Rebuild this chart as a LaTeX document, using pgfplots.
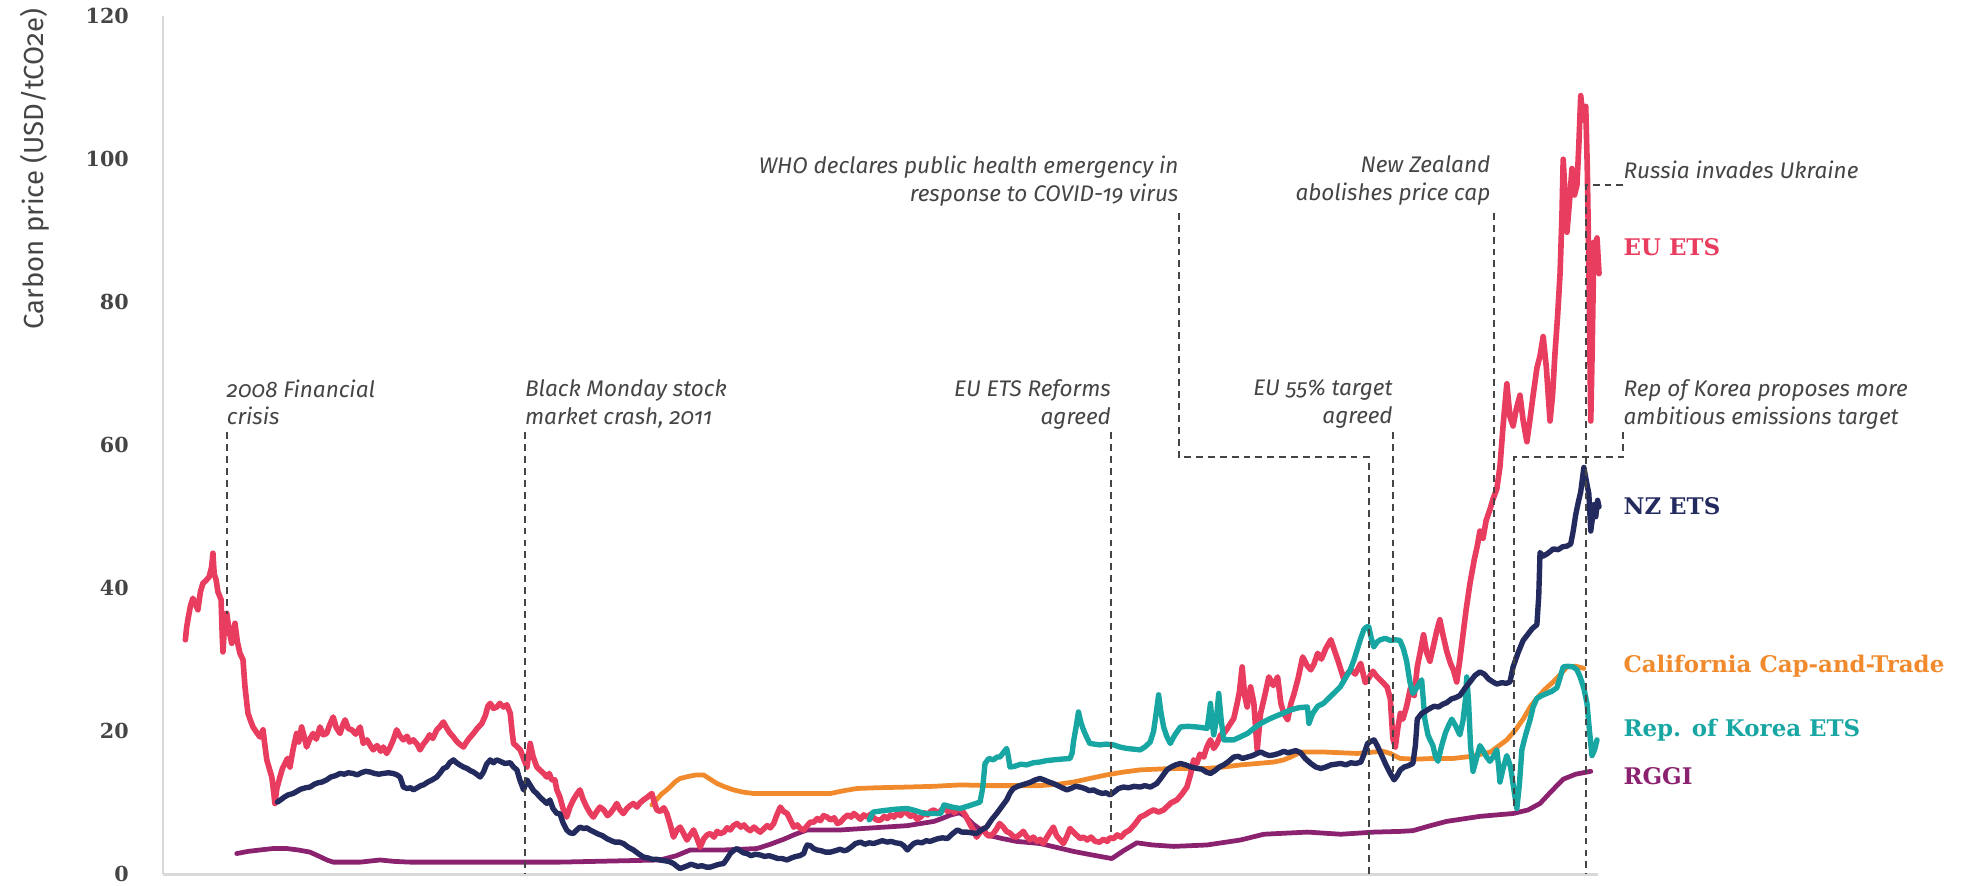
\documentclass[border=0pt]{standalone}
\usepackage{pgfplots}
\pgfplotsset{compat=1.18}
\usepackage{fontspec}
\setmainfont{DejaVu Serif}
\newfontfamily\annfont[Numbers=OldStyle]{Fira Sans}
\definecolor{eu}{HTML}{E83D5F}
\definecolor{nz}{HTML}{232B5E}
\definecolor{ca}{HTML}{F08A2C}
\definecolor{kr}{HTML}{18A6A3}
\definecolor{rg}{HTML}{8B2270}
\definecolor{ann}{HTML}{454545}
\definecolor{axg}{HTML}{D9D9D9}
\tikzset{ev/.style={ann, line width=1.5pt, dash pattern=on 5.5pt off 4pt},
  annt/.style={font=\annfont\itshape\fontsize{18}{22}\selectfont, text=ann, inner sep=0pt},
  sl/.style={font=\bfseries\fontsize{18.3}{20}\selectfont, inner sep=0pt, anchor=west}}
\begin{document}
\begin{tikzpicture}
\path[use as bounding box] (-130pt,-9pt) rectangle (1438pt,698pt);
\begin{axis}[scale only axis, width=1146pt, height=685pt,
  xmin=130, xmax=1276, ymin=0, ymax=120, clip=false,
  axis x line*=bottom, axis y line*=left,
  axis line style={-, axg, line width=2pt},
  xtick=\empty, ytick={0,20,...,120}, major tick length=0pt,
  /pgf/number format/assume math mode=true,
  yticklabel style={anchor=east, inner sep=0pt, xshift=-27pt, font=\bfseries\fontsize{16.5}{16.5}\selectfont, text=ann},
  no markers, every axis plot/.append style={line join=round, line cap=round}]
% RGGI
\addplot[rg, line width=3.8pt] table {
189 2.9
198 3.2
207.6 3.4
218 3.6
229 3.6
238 3.4
247.5 3.1
255 2.5
261 2
266 1.7
287.5 1.7
303.4 2
315 1.8
327.4 1.7
447 1.7
527 2
540 2.6
551 3.4
577.7 3.4
604.4 3.6
615 4.2
625.7 4.9
635 5.6
644.4 6.2
660 6.2
671 6.2
697.6 6.5
724.4 6.8
745.7 7.4
752 7.8
759 8.3
766 8.6
770 8.2
777 7
784 6.1
790.4 5.4
800 5
811.6 4.6
830.3 4.3
845 3.7
857 3.2
872 2.7
887.6 2.2
897 3.3
907.6 4.4
920 4.1
937 3.9
963.7 4.1
990.5 4.8
1009 5.6
1043.8 5.9
1070.5 5.6
1097 5.9
1118 6
1128 6.1
1142 6.8
1155 7.4
1181.5 8.1
1208 8.5
1220 9
1229.5 9.9
1238 11.5
1248 13.3
1258 14
1270 14.4
};
% California
\addplot[ca, line width=3.8pt] table {
520.4 9.7
524 10.4
528 11.2
532.4 11.8
536 12.4
539.5 13
543 13.4
550 13.7
556 13.9
561.7 13.9
567 13.3
572.4 12.7
579 12.2
585.7 11.8
593 11.5
601.6 11.3
620 11.3
640 11.3
663 11.3
674 11.7
684.3 12
700 12.1
724.4 12.2
745 12.3
767 12.5
790 12.4
810 12.4
830 12.4
845 12.6
857 12.9
870 13.4
883.6 13.9
897 14.3
910.3 14.6
923 14.7
937 14.8
963.7 14.8
977 15
990.5 15.3
1004 15.5
1017 15.7
1025 16
1030.5 16.4
1035 16.8
1038.4 17.1
1057 17.1
1070 17
1083.6 16.9
1097 17.1
1104 17.2
1110 16.9
1117.7 16.2
1130 16.1
1145 16.2
1160 16.2
1175 16.5
1190 17.1
1203 18.8
1210 20.2
1216 21.7
1222 23.5
1227 24.6
1233 25.8
1240 26.9
1246 28
1251 29
1258 29.1
1264.5 28.8
};
% EU ETS
\addplot[eu, line width=4.5pt] table {
148 32.8
149 34.5
150 35.6
152 37.5
154 38.6
156 37.8
158 37
160 39.5
162 40.7
164 41
167 41.6
169 43
170 44.9
171 42
172.5 41.2
174 39.5
176.5 38.4
177.5 33
178 31.1
179 34
181 36.5
183 34
185 32.3
187.6 35.1
189.5 32.5
191.6 30.9
194 30
195.6 26.2
197 24
198 22.5
200 21.5
202 20.6
205 19.8
207.6 19.2
210 20.2
211.5 18
213 16
215 14.8
217 13.6
218.5 11.5
219.5 9.9
221 12
223.5 13.6
225.5 14.8
227.5 15.5
229.5 16.2
231.5 15
234 17.5
236.8 19.7
238.5 18.5
240.8 20.6
242.5 19.5
244.8 17.8
247 18.8
250 19.7
252.5 18.9
255.5 20.6
258 19.5
260.8 19.7
263 20.8
266 22
268.5 20.5
271.5 19.7
273.5 20.8
275.5 21.6
278 20.4
280.8 20.2
284 19.6
287.5 20.6
290 18.3
293 18.8
296 17.9
298 17.4
301 18
304 17.2
306 17.8
308.7 16.9
311 17.6
314 18.8
316.7 20.2
319 19.4
322 18.8
325 19.3
327 18.5
330 18.8
333 18.2
335.3 17.4
338 18.2
340.7 18.8
343 19.5
345.5 19
348.7 20.2
351 20.6
354 21.3
356.5 20.5
359 19.8
362 19.2
364.5 18.6
367 18.2
370 17.8
372.5 18.5
375 19.1
378 19.7
381 20.4
384.7 21.1
387.5 22.2
389.5 23.5
391.4 23.9
394 23.2
396.7 23.4
399 23.9
402 23.4
404.7 23.7
407.4 22.5
408.8 20
410 18.3
412.5 17.9
415.4 17.4
418 16.2
420.7 15
423.3 18.3
425.5 16.5
428.6 15
431 14.6
434 14.1
436.6 13.6
438.5 14.1
440.5 13.2
443 13.2
444.6 11.8
447 10.8
449.5 9.2
452.4 8
455 9.4
457.7 10.4
460.5 11.2
463 11.8
465.5 10.5
468.4 9.4
471 8.6
473.7 8
476.5 8.8
479 9.4
482 9
485 8.2
487 8.5
490 9.2
492.4 9.9
495 9
497.7 8.5
500.5 9.2
503 9.6
505.7 9.9
508.5 9.4
511 10
513.7 10.4
517 10.8
520.4 11.3
522.5 10
524.4 9
527 8.8
530 9.3
532.4 8.5
535 7
537.7 5.2
540.5 6.2
543 6.6
545.5 5.8
548.4 4.8
551 5.5
553.7 6.2
556.5 5
559 3.8
562 5
564.5 5.5
567 5.7
570 5.2
572.5 6
575 5.7
578 5.9
580.5 6.5
583 6.2
585.5 6.8
588.4 7.1
591.5 6.6
594 6.9
596.4 6.4
599 6.1
602 6.6
604.5 6.2
607 5.9
610 6.4
612.5 6.8
615 6.5
617.7 7.1
620 8.2
623 9.4
625.5 8.8
628.4 8.5
631 7.6
633.7 6.6
636.5 6.9
639 6.4
641.7 6.2
644.5 6.8
647 7.3
649.7 7.3
652.5 7.8
655 7.5
657.5 8.2
660.4 8
663 7.6
666 7.9
668.5 7.1
671 7.3
674 7.9
677 8.3
679.5 8.0
681.7 8.5
684.5 8.1
687 7.7
689.5 8.3
692.4 8
695 8.4
697.5 7.9
700 7.6
703 7.6
706 8.1
708.5 7.8
711 8.3
713.7 8
716.5 8.6
719 8.2
721.5 8.8
724.4 8.5
727 8.1
729.5 8.4
732 7.7
735 8
738 8.6
740.5 8.3
743 8.8
745.7 9
748.5 8.5
751 8.9
753.5 9.3
756.4 8.8
759 9.2
762 8.6
764.5 9.1
767 9
769 8.7
771 8.2
773.5 7.3
776 6.5
779.7 5.2
782.5 5.9
785 6.4
787.5 5.6
790 5.3
793 5.7
795.5 6.3
798 7.1
801 6.6
803.5 6
806 5.8
809 5.3
811.6 5.2
814.5 5.6
817 6
819.5 5.3
822.3 4.8
825 5.2
828 4.6
830.5 4.9
833 4.3
835.5 5.1
838 5.8
841 6.6
843.5 5.4
846 4.9
849 4.3
851.5 5.2
854.3 6.4
857 5.9
860 5.4
862.5 5
865 5.2
868 4.8
871 5.2
874.5 4.6
878 4.5
881 4.9
884 4.6
886 5.1
889 5
892 5.5
895 5.2
898 5.8
902 6.2
906 7
910.3 8
914 8.3
917.5 8.7
921 9
925 8.7
929 9
932 9.5
935 10
939.6 10.4
943.5 11.2
947.6 12.2
950.5 14
953 16
955.5 15.5
958 16.8
961 16.4
963.5 17.8
966.4 18.8
969 17.6
971.7 18.3
974.5 19.5
977 19.7
979.5 20.3
982.4 21.1
985 21.8
987.7 23.9
989.5 25.5
991.7 29
993.7 25
995.7 23.4
998.4 26.2
1001 24
1003.7 17.4
1006.4 22.5
1009.5 24.8
1013 27.6
1016.5 26.4
1020 27.6
1022.6 23.9
1025 22.5
1028 21.6
1030.5 23.8
1033.2 25.3
1036.5 27.5
1040 30.4
1043.5 29.2
1046.5 28.6
1049 29.4
1052 30.9
1055 30.1
1058.5 31.6
1062.5 32.8
1065 31.5
1068 30
1070.5 28.6
1073 27.2
1075.5 28
1078.5 28.6
1082 28
1086.3 29.5
1090 26.8
1093 27.5
1096 28.4
1099.5 27.6
1103 27
1107.4 26.2
1110 24.5
1112 19
1114 17.8
1116 20.5
1118 22.5
1120 21.7
1123 23.5
1126 26
1129 25
1131.5 29
1134 31.2
1136.5 33.5
1139 31
1141.6 29.8
1144.5 32
1147 34
1149.5 35.6
1152 33.5
1155 31.2
1158 29.5
1160.5 28.5
1163 26.9
1165.5 30
1168 33.5
1170.5 37
1173.6 40.7
1177 44
1179.5 46
1181.5 48
1184 47
1186.5 49.5
1189.5 51
1192 52.5
1195 53.9
1197.5 57
1200 62.7
1203 68.6
1205.5 64
1208 62.7
1210.5 65
1213.5 67
1216 63.5
1219 60.5
1221 63
1224 67
1227 70.8
1229.5 72.5
1232 75.2
1234.5 71
1237.5 63.4
1239.5 67
1241.5 73
1243.5 78
1245.5 84
1247 92
1248 100
1249.5 95
1251 89.8
1253 94
1255 98.7
1257 95
1259 96.4
1260.5 102
1262 108.9
1264 105.5
1266 107.4
1267.2 99
1268.5 84.7
1270 63.4
1271.2 74
1272.5 88.4
1274 86
1275 89
1276.6 84
};
% Korea
\addplot[kr, line width=4.3pt] table {
694 7.6
696 8.3
697 8.7
705 8.9
715 9.1
724.4 9.2
731 8.9
737.7 8.5
745 8.5
751 8.5
753.7 9.7
760 9.4
766.4 9.2
774 9.6
782.4 10.1
784.5 12
786.4 15.5
789.5 16.2
793 16
796 16.4
798.3 16.4
801 17
803.7 17.6
805 16.5
806.3 15
810 15.1
815 15.4
819.7 15.3
825 15.6
830.3 15.7
835.5 15.9
841 16
847 16.1
854.3 16.2
856 17
857 18.5
859 20.5
861 22.7
863 21.2
865 20.2
867.5 19.2
870 18.3
874 18.2
878 18.1
883 18.2
889 18.1
894 17.8
899.7 17.6
905 17.5
910.3 17.4
914 17.8
918.3 18.5
921 20
923 22.5
925 25.1
927 22.5
929 20.6
931.5 19.3
934.3 18.3
938 19.5
942.4 20.6
948 20.7
955.7 20.6
960 20.5
963.7 20.4
965 22
966.4 23.9
967.8 21
969 19.5
971 21.5
973 25.3
975 21.5
977 18.8
981 18.8
985 18.8
990 19.2
996 19.7
1001 20.4
1006.6 21.1
1012 21.6
1017 22
1024 22.5
1030.5 23
1037 23.3
1043.8 23.4
1045 21.1
1048 22.5
1052 23.5
1056.6 23.9
1063 25
1070 26.2
1074 27.4
1078 28.6
1081 30
1083.5 31.4
1086 32.8
1088.8 34.2
1091 34.6
1092.8 34.6
1094.8 33
1096.8 31.8
1099.5 32.5
1102 32.8
1106 33
1110 32.7
1114 32.8
1117.7 32.7
1120.5 31.5
1123 29.8
1125.6 26.9
1128 25.3
1130 25.8
1132.5 26.5
1135 27.2
1136.5 24
1137.5 21.7
1140 19.5
1142 18.7
1144 18
1146 16.5
1148 15.8
1151 18
1154 19.8
1157 21
1159 21.7
1162 20.8
1165.5 19.5
1168 21.5
1170 24.5
1171 27.6
1172.5 24
1174 18
1176 14.4
1178.5 16
1181.5 18
1184 17.3
1186.5 16.5
1189.5 15.8
1192 16.4
1195 17.4
1196.5 15
1197.5 12.9
1200 14.8
1203 16.6
1206 15
1208.5 12
1211 9.2
1213 12.5
1215 17.4
1218 19.5
1221.7 21.7
1224 23.4
1227 24.6
1231 25
1235 25.3
1239 25.6
1243 26.1
1245.5 27.5
1248 29
1252 29.1
1256 29
1259 28.6
1261.5 27.6
1264.5 26
1267 23.9
1269 20
1271 16.6
1273 17.4
1275 18.8
};
% NZ ETS
\addplot[nz, line width=4.3pt] table {
221.5 10.1
224 10.4
227 10.8
230 11.1
234 11.3
237 11.6
240 11.9
244 12.1
247.5 12.2
251 12.6
254 12.8
257 12.9
260.8 13.2
264 13.6
268 13.8
271.5 14.1
275 14
278 14.2
282 14.1
285 13.9
288.5 14.2
292 14.4
295.5 14.3
299 14.1
302.5 14
306 14.1
310 14.2
314 14.1
317 13.9
319.4 13.6
321 12.8
322 12.2
325 12
328 12.1
330 11.8
333 12.1
336 12.4
338 12.5
341.5 12.9
345 13.2
348.7 13.6
351.5 14.2
354 14.8
356.7 15
359 15.6
362 16
364.5 15.6
367 15.3
370 15
373 14.8
375.5 14.5
378 14.3
380.5 14
383.4 13.6
386 14.3
388.5 15.4
391.4 16
394 15.6
396.5 16
399.4 15.8
403 15.5
407.4 15.6
410 15
412.7 14.6
415 13.2
418 11.8
420.7 13.2
423.5 12.4
426 11.7
428.6 11.3
431 10.8
433.5 10.4
436.6 9.9
439 10.4
441.5 9.2
444.6 8.5
447 8.5
449.5 7.2
452.4 6.2
455 5.8
457.7 5.7
460.5 6.2
463 6.6
466 6.4
468.5 6.5
471 6.2
474.5 5.9
478 5.6
481 5.4
484.4 5
488 4.7
491 4.5
494.5 4.5
497.7 4.3
501.5 3.8
505.7 3.4
509.5 2.9
513.7 2.4
517 2.3
520.5 2.1
524 2.1
527 2
530.5 1.9
534 1.8
537.7 1.5
540.5 1.1
543 0.8
546 1
549 1.2
551.5 1.4
553.7 1.3
557 1.1
560.5 1.2
564 1
567 1
570.5 1.2
574 1.4
577.7 1.5
580.5 2.2
583 2.9
585.5 3.3
588.4 3.6
591 3.3
593.5 3
596.4 2.9
599.5 2.6
603 2.8
607 2.7
610.5 2.5
614 2.6
617.7 2.4
621 2.2
624.5 2.2
628.4 2
632 2.3
635.5 2.5
638.5 2.6
641.7 2.9
643 3.6
644.4 4.1
647 4
649.5 3.6
652.3 3.4
655.5 3.3
659 3.1
663 3.1
667 3.3
670.5 3.5
674 3.3
676.3 3.4
679.5 3.8
683 4.3
687 4.5
690.5 4.2
694 4.4
697.6 4.3
701 4.5
704.5 4.7
708.3 4.5
711.5 4.6
715 4.4
719 4.3
721.5 4
724.4 3.4
727 3.9
729.5 4.3
732.4 4.5
736 4.4
739.5 4.7
742.5 4.6
745.7 4.8
749 5
752.5 5.1
756.4 5
760 5.6
764.3 6.2
768 5.9
771.7 5.9
775.5 5.8
779.7 5.7
783.5 6.2
787.7 6.6
791.5 7.6
795.7 8.5
799.5 9.4
803.7 10.4
806.5 11.4
809 12
812.5 12.3
816 12.5
819.7 12.7
823 12.9
826.5 13.2
830.3 13.4
833.5 13.2
837.5 12.9
841 12.7
844.5 12.4
848 12.1
851.7 11.8
855 12
858.5 12.3
862.3 12.2
866 12
869.5 11.7
873 11.8
876.5 11.5
880 11.3
883 11.4
886.3 11.1
889.5 11.5
893 12
897 12.2
901 12.1
905.5 12.3
910.3 12.2
914 12.4
918.5 12.2
923.6 12.7
927.5 13.6
931.6 14.6
935 15
938.5 15.3
942.4 15.5
946.5 15.3
951 15
955.7 14.8
959.5 14.7
963 14.3
966.4 14.1
970 14.5
973.5 15
977 15.3
981 15.8
985 16.4
988.5 16.5
992 16.2
996 16.4
1000 16.6
1003.5 16.9
1006.6 17.1
1010 16.8
1013.5 16.6
1017 16.7
1021 16.9
1025 17.2
1028 17
1030.5 17.1
1034.5 17.3
1038.4 17
1042 16.2
1046.5 15.5
1050.5 15
1054.5 14.8
1058.5 15
1062.5 15.3
1066.5 15.4
1070.5 15.5
1074.5 15.3
1078.5 15.6
1082.5 15.5
1086.5 15.7
1089 16.8
1091.8 18.3
1094.5 18.6
1097 18.8
1099.5 18
1102.4 16.9
1106 15.5
1110 14.1
1113 13.2
1115.5 13.8
1118 14.6
1121 15
1124.5 15.2
1128 15.5
1130 18
1131.5 21.7
1135 22.5
1138 22.8
1141.6 23.2
1145 23.5
1148.5 23.4
1152 23.8
1155 24
1158.5 24.5
1162 24.7
1165.5 25
1169.5 26
1173.6 26.9
1177.5 27.8
1181.5 28.3
1185 28
1188.5 27.3
1192 26.9
1195 26.6
1199 26.8
1202.5 26.7
1205.5 26.9
1208 29
1212 31
1216 32.7
1219.5 33.5
1223.5 34.4
1227 34.9
1228.5 39
1229.5 45
1232 44.5
1235 44.8
1238 45.2
1240 45.5
1244 45.4
1247.5 45.8
1251 45.9
1254 46.2
1256 48
1258 50.3
1260 52
1262 53.5
1264.5 56.9
1266.5 55
1268.5 53.2
1270 48
1271.5 50
1272.5 51.7
1274 50
1275.5 52.3
1276.6 51.4
};
% event lines
\draw[ev] (axis cs:181,61.8) -- (axis cs:181,36.4);
\draw[ev] (axis cs:419,61.8) -- (axis cs:419,0);
\draw[ev] (axis cs:887,61.8) -- (axis cs:887,5.8);
\draw[ev] (axis cs:1112,61.8) -- (axis cs:1112,14);
\draw[ev] (axis cs:941,92.5) -- (axis cs:941,58.3) -- (axis cs:1093,58.3) -- (axis cs:1093,0);
\draw[ev] (axis cs:1193,92.5) -- (axis cs:1193,27.7);
\draw[ev] (axis cs:1296,61.8) -- (axis cs:1296,58.3) -- (axis cs:1209,58.3) -- (axis cs:1209,9.3);
\draw[ev] (axis cs:1296,96.4) -- (axis cs:1266,96.4) -- (axis cs:1266,0);
% event texts
\node[annt, anchor=north west, align=left] at (axis cs:181,69.2) {2008 Financial\\crisis};
\node[annt, anchor=north west, align=left] at (axis cs:419,69.2) {Black Monday stock\\market crash, 2011};
\node[annt, anchor=north east, align=right] at (axis cs:887,69.2) {EU ETS Reforms\\agreed};
\node[annt, anchor=north east, align=right] at (axis cs:1112,69.2) {EU 55\% target\\agreed};
\node[annt, anchor=north east, align=right] at (axis cs:941,100.5) {WHO declares public health emergency in\\response to COVID-19 virus};
\node[annt, anchor=north east, align=right] at (axis cs:1190,100.5) {New Zealand\\abolishes price cap};
\node[annt, anchor=north west, align=left] at (axis cs:1296,99.8) {Russia invades Ukraine};
\node[annt, anchor=north west, align=left] at (axis cs:1296,69.2) {Rep of Korea proposes more\\ambitious emissions target};
% series labels
\node[sl, text=eu] at (axis cs:1296,87.7) {EU ETS};
\node[sl, text=nz] at (axis cs:1296,51.5) {NZ ETS};
\node[sl, text=ca] at (axis cs:1296,29.1) {California Cap-and-Trade};
\node[sl, text=kr] at (axis cs:1296,20.1) {Rep. of Korea ETS};
\node[sl, text=rg] at (axis cs:1296,13.7) {RGGI};
\end{axis}
\node[rotate=90, font=\annfont\fontsize{22}{22}\selectfont, text=ann, inner sep=0pt] at (-102pt,563pt) {Carbon price (USD/tCO2e)};
\end{tikzpicture}
\end{document}
